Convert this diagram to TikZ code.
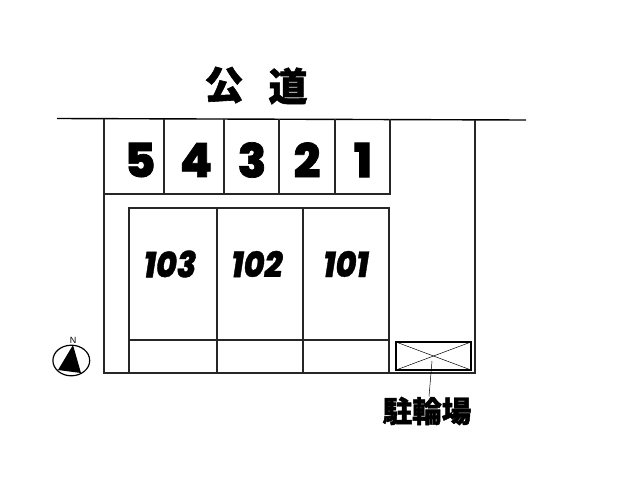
\documentclass[tikz,border=0pt]{standalone}
\usepackage{fontspec}
\usepackage{tikz}
\setmainfont{Poppins}[UprightFont=* ExtraBold,ItalicFont=* ExtraBold Italic]
\newfontfamily\cjk{Noto Sans CJK JP}[UprightFont=* Black,FakeBold=1.5]
\newfontfamily\numfont{Poppins}[UprightFont=* ExtraBold,FakeBold=1.5]
\newfontfamily\roomfont{Poppins}[UprightFont=* ExtraBold Italic,FakeStretch=.88,FakeBold=1]
\newfontfamily\northfont{Liberation Sans}
\tikzset{
    wall/.style={line width=1.1pt,black!85},
    stallnum/.style={font=\fontsize{47}{47}\numfont},
    roomnum/.style={font=\fontsize{36}{36}\roomfont},
    roadtext/.style={font=\fontsize{39}{39}\cjk},
    biketext/.style={font=\fontsize{29.5}{30}\cjk,inner sep=0pt}
}
\begin{document}
\begin{tikzpicture}[x=1pt,y=-1pt]
    \useasboundingbox (0,0) rectangle (640,480);
    % road
    \draw[wall,line width=1.4pt,black] (57,118.5) -- (526,120);
    \node[roadtext] (koh) at (224,85) {公};
    \node[roadtext] (doh) at (288,86) {道};
    % site outline
    \draw[wall] (104,119) -- (104,373) -- (475,373) -- (475,120);
    % parking
    \draw[wall] (104,194) -- (390,194) -- (390,119);
    \draw[wall] (164,119) -- (164,194);
    \draw[wall] (224,119) -- (224,194);
    \draw[wall] (279,119) -- (279,194);
    \draw[wall] (335,119) -- (335,194);
    \node[stallnum] (p5) at (140,160) {5};
    \node[stallnum] (p4) at (196,160) {4};
    \node[stallnum] (p3) at (252,160) {3};
    \node[stallnum] (p2) at (307,160) {2};
    \node[stallnum] (p1) at (363,160) {1};
    % building
    \draw[wall] (129,373) -- (129,208) -- (389,208) -- (389,373);
    \draw[wall] (217,208) -- (217,373);
    \draw[wall] (303,208) -- (303,373);
    \draw[wall] (129,340) -- (389,340);
    \node[roomnum] (r103) at (170,264) {103};
    \node[roomnum] (r102) at (257,264) {102};
    \node[roomnum] (r101) at (346,264) {101};
    % bicycles
    \draw[line width=1.5pt] (396,342) rectangle (471,370);
    \draw[line width=.5pt] (396,342) -- (471,370);
    \draw[line width=.5pt] (396,370) -- (471,342);
    \node[biketext] (bike) at (427,411) {駐輪場};
    \coordinate (bikemid) at (432,361);
    \draw[line width=.5pt] (bikemid) -- (bike.north -| 429,0);
    % north mark
    \draw[line width=1.2pt] (71.3,360.5) ellipse (18.4 and 15.3);
    \fill (73,345) -- (81,373) -- (58,370) -- cycle;
    \node[font=\fontsize{9}{9}\northfont,inner sep=0pt] (north) at (73,340) {N};
\end{tikzpicture}
\end{document}
